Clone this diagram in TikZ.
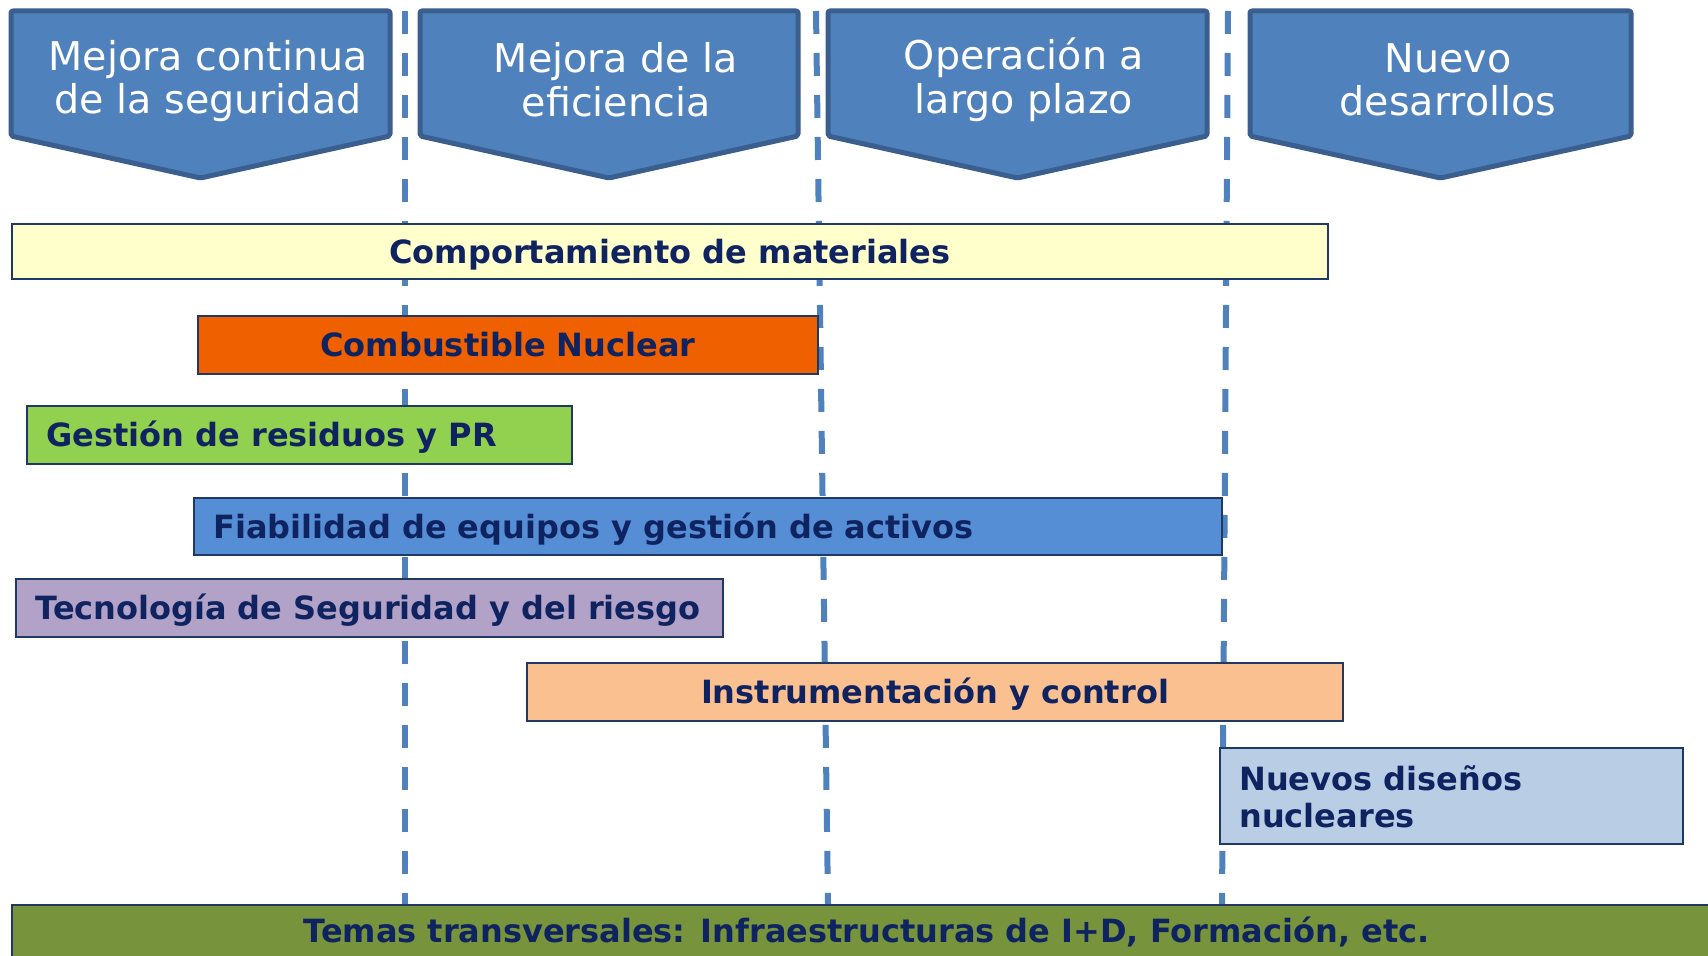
\documentclass[tikz,border=0pt]{standalone}
\usepackage{fontspec}
\setmainfont{DejaVu Sans}
\definecolor{hdrfill}{HTML}{4F81BD}
\definecolor{hdrline}{HTML}{3A5F8E}
\definecolor{dashc}{HTML}{4F81BD}
\definecolor{navy}{HTML}{0E2360}
\definecolor{barline}{HTML}{1F3864}
\definecolor{cYellow}{HTML}{FFFFCC}
\definecolor{cOrange}{HTML}{EE6000}
\definecolor{cGreen}{HTML}{92D050}
\definecolor{cBlue}{HTML}{558ED5}
\definecolor{cLilac}{HTML}{B3A2C7}
\definecolor{cPeach}{HTML}{FAC090}
\definecolor{cLight}{HTML}{B9CDE5}
\definecolor{cOlive}{HTML}{77933C}
\tikzset{
  hdr/.style={draw=hdrline, fill=hdrfill, line width=2.5pt, rounded corners=1pt, line join=round},
  hdrtext/.style={text=white, font=\fontsize{19.8}{21.8}\selectfont, align=center, inner sep=0pt},
  divider/.style={draw=dashc, line width=3pt, dash pattern=on 11.5pt off 9.5pt},
  barbox/.style={draw=barline, line width=1pt, anchor=north west, inner sep=0pt},
  lbl/.style={text=navy, font=\bfseries\fontsize{16}{19}\selectfont, inner sep=0pt},
}
\begin{document}
\begin{tikzpicture}[x=0.5pt, y=-0.5pt]
\useasboundingbox (0,0) rectangle (1708,956);
\fill[white] (0,0) rectangle (1708,956);
% dashed dividers
\coordinate (d1t) at (405,11);  \coordinate (d1b) at (405,904);
\coordinate (d2t) at (816,11);  \coordinate (d2b) at (828,904);
\coordinate (d3t) at (1228,11); \coordinate (d3b) at (1222,904);
\draw[divider] (d1t) -- (d1b);
\draw[divider] (d2t) -- (d2b);
\draw[divider] (d3t) -- (d3b);
% headers
\foreach \l/\r/\n in {11/390/h1, 420/798/h2, 828/1207/h3, 1250/1631/h4}{
  \draw[hdr] (\l,11) -- (\r,11) -- (\r,136) -- ({(\l+\r)/2},178) -- (\l,136) -- cycle;
}
\node[hdrtext] (t1) at (208,81) {Mejora continua\\de la seguridad};
\node[hdrtext] (t2) at (616,80) {Mejora de la\\eficiencia};
\node[hdrtext] (t3) at (1024,80) {Operación a\\largo plazo};
\node[hdrtext] (t4) at (1448,80) {Nuevo\\desarrollos};
% bars
\node[barbox, fill=cYellow, minimum width=658pt, minimum height=27.5pt] (b1) at (11,223) {};
\node[barbox, fill=cOrange, minimum width=310pt, minimum height=29pt] (b2) at (197,315) {};
\node[barbox, fill=cGreen, minimum width=272.5pt, minimum height=29pt] (b3) at (26,405) {};
\node[barbox, fill=cBlue, minimum width=514pt, minimum height=28.5pt] (b4) at (193,497) {};
\node[barbox, fill=cLilac, minimum width=353.5pt, minimum height=29pt] (b5) at (15,578) {};
\node[barbox, fill=cPeach, minimum width=408pt, minimum height=29pt] (b6) at (526,662) {};
\node[barbox, fill=cLight, minimum width=231.5pt, minimum height=48pt] (b7) at (1219,747) {};
\node[barbox, fill=cOlive, minimum width=854.5pt, minimum height=30pt] (b8) at (11,904) {};
% labels
\node[lbl, anchor=base] (l1) at ([yshift=-6pt]b1.center) {Comportamiento de materiales};
\node[lbl, anchor=base] (l2) at ([yshift=-6pt]b2.center) {Combustible Nuclear};
\node[lbl, anchor=base west] (l3) at ([xshift=10pt,yshift=-6pt]b3.west) {Gestión de residuos y PR};
\node[lbl, anchor=base west] (l4) at ([xshift=10pt,yshift=-6pt]b4.west) {Fiabilidad de equipos y gestión de activos};
\node[lbl, anchor=base west] (l5) at ([xshift=10pt,yshift=-6pt]b5.west) {Tecnología de Seguridad y del riesgo};
\node[lbl, anchor=base] (l6) at ([yshift=-6pt]b6.center) {Instrumentación y control};
\node[lbl, anchor=base west] (l7a) at ([xshift=10pt,yshift=-21.5pt]b7.north west) {Nuevos diseños};
\node[lbl, anchor=base west] (l7b) at ([xshift=10pt,yshift=-40pt]b7.north west) {nucleares};
\node[lbl, anchor=base] (l8) at ([yshift=-19pt]b8.north) {Temas transversales: Infraestructuras de I+D, Formación, etc.};
\end{tikzpicture}
\end{document}
